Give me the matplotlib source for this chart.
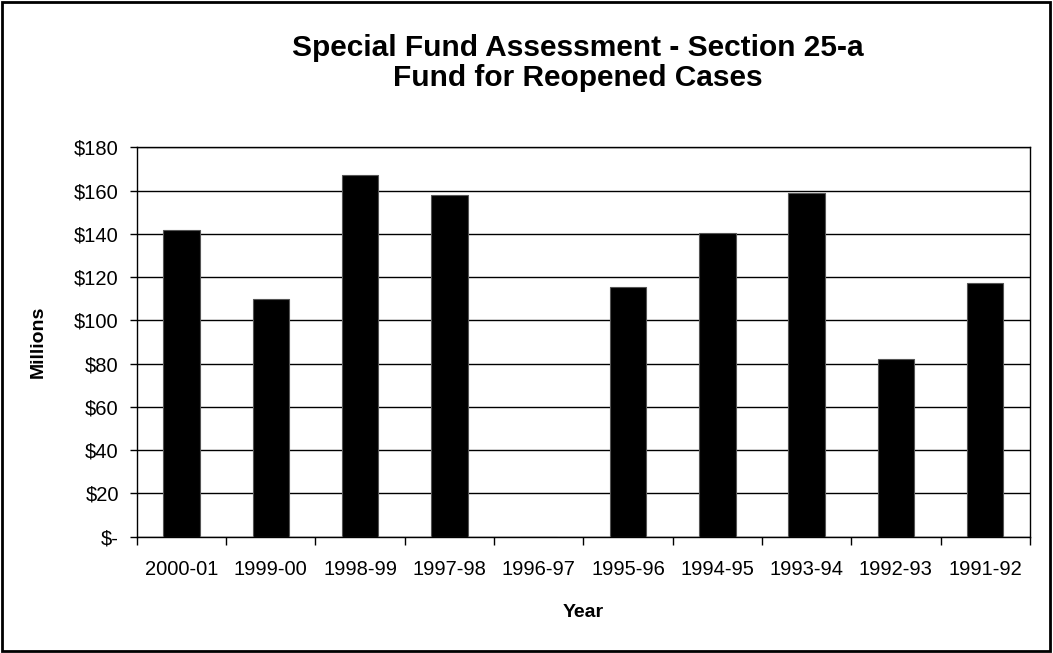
import matplotlib

matplotlib.use("Agg")
import matplotlib.pyplot as plt
from matplotlib.patches import Rectangle

# fiscal years, as shown left to right
years = ["2000-01", "1999-00", "1998-99", "1997-98", "1996-97",
         "1995-96", "1994-95", "1993-94", "1992-93", "1991-92"]
# assessment in millions of dollars (1996-97 shows no bar)
assessment = [142, 110, 167, 158, 0, 115.5, 140.5, 159, 82, 117.5]
y_ticks = [0, 20, 40, 60, 80, 100, 120, 140, 160, 180]
y_tick_labels = ["$-", "$20", "$40", "$60", "$80", "$100", "$120", "$140", "$160", "$180"]

plt.rcParams["font.family"] = ["Liberation Sans", "DejaVu Sans"]

fig = plt.figure(figsize=(10.53, 6.53), dpi=100)
ax = fig.add_axes([0.130, 0.178, 0.848, 0.5964])

x = list(range(len(years)))
ax.bar(x, assessment, width=0.41, color="black", edgecolor="#555555", linewidth=0.8, zorder=3)

ax.set_xlim(-0.5, len(years) - 0.5)
ax.set_ylim(0, 180)
ax.set_yticks(y_ticks)
ax.set_yticklabels(y_tick_labels)
ax.set_xticks(x)
ax.set_xticklabels(years)
ax.tick_params(axis="x", length=0, pad=17, labelsize=14.5)
ax.tick_params(axis="y", length=5, width=1, direction="out", pad=8, labelsize=14.5)
# tick marks between categories on the x axis
ax.set_xticks([i - 0.5 for i in range(len(years) + 1)], minor=True)
ax.tick_params(axis="x", which="minor", length=6, width=1, direction="out")

ax.grid(axis="y", color="black", linewidth=1, zorder=0)
for side in ("left", "bottom", "right", "top"):
    ax.spines[side].set_color("black")
    ax.spines[side].set_linewidth(1)

ax.set_xlabel("Year", fontsize=14, fontweight="bold", labelpad=18)
ax.set_ylabel("Millions", fontsize=14, fontweight="bold", labelpad=20)

fig.text(0.549, 0.927, "Special Fund Assessment - Section 25-a", ha="center", va="center",
         fontsize=21.5, fontweight="bold")
fig.text(0.549, 0.880, "Fund for Reopened Cases", ha="center", va="center",
         fontsize=21.5, fontweight="bold")

fig.patches.append(Rectangle((0.002, 0.003), 0.995, 0.994, transform=fig.transFigure,
                             fill=False, edgecolor="black", linewidth=2))

fig.savefig("out.png", dpi=100, facecolor="white")
plt.close(fig)
